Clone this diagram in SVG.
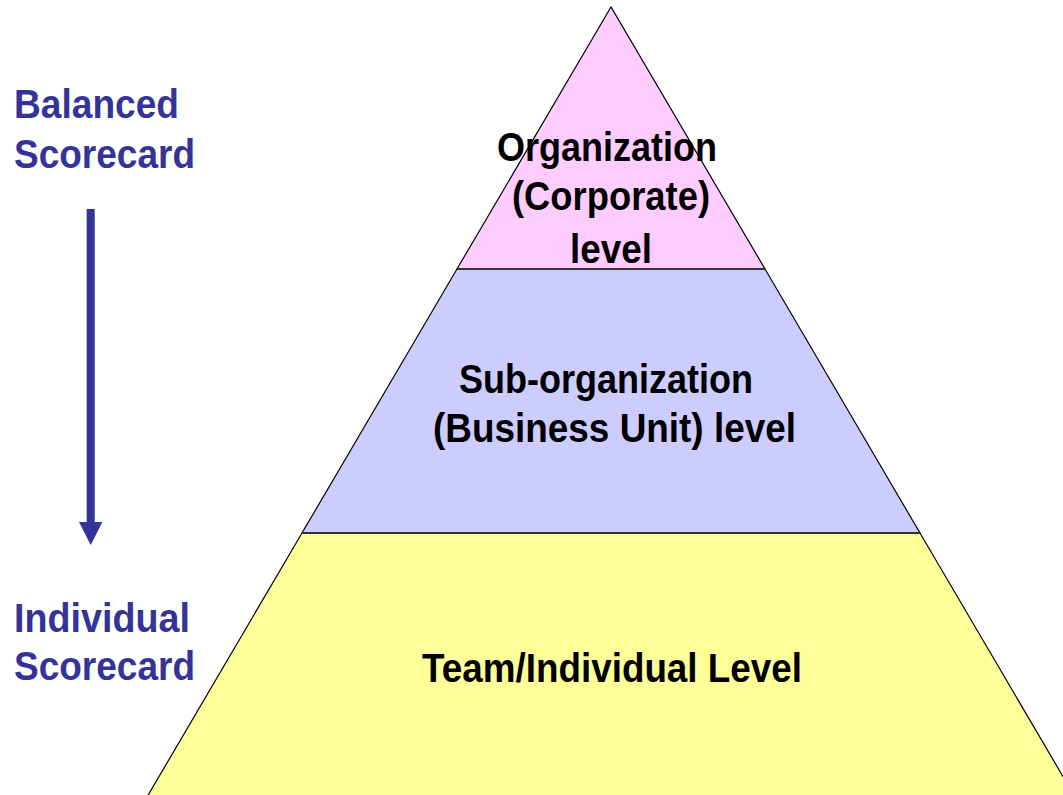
<svg xmlns="http://www.w3.org/2000/svg" width="1063" height="795" viewBox="0 0 1063 795">
<style>
.lvl{font-family:"Liberation Sans",Arial,sans-serif;font-weight:bold;font-size:40px;fill:#000}
.side{font-family:"Liberation Sans",Arial,sans-serif;font-weight:bold;font-size:40px;fill:#333399}
.edge{stroke:#000;stroke-width:1.2;stroke-linejoin:miter}
.sep{stroke:#333;stroke-width:2}
</style>
<rect width="1063" height="795" fill="#fff"/>
<g id="level-corporate">
<polygon points="611,7 457,269 765,269" fill="#FFCCFF" class="edge"/>
<text class="lvl" x="497" y="161" textLength="220" lengthAdjust="spacingAndGlyphs">Organization</text>
<text class="lvl" x="512" y="210" textLength="198" lengthAdjust="spacingAndGlyphs">(Corporate)</text>
<text class="lvl" x="570" y="263" textLength="82" lengthAdjust="spacingAndGlyphs">level</text>
</g>
<g id="level-business-unit">
<polygon points="457,269 765,269 920,533 302,533" fill="#CCCCFF" class="edge"/>
<text class="lvl" x="459" y="393" textLength="294" lengthAdjust="spacingAndGlyphs">Sub-organization</text>
<text class="lvl" x="433" y="442" textLength="363" lengthAdjust="spacingAndGlyphs">(Business Unit) level</text>
</g>
<g id="level-team">
<polygon points="302,533 920,533 1075,797 147,797" fill="#FFFF99" class="edge"/>
<text class="lvl" x="422" y="682" textLength="380" lengthAdjust="spacingAndGlyphs">Team/Individual Level</text>
</g>
<g id="separators">
<line x1="457" y1="269" x2="765" y2="269" class="sep"/>
<line x1="302" y1="533" x2="920" y2="533" class="sep"/>
</g>
<g id="label-balanced">
<text class="side" x="14" y="118" textLength="165" lengthAdjust="spacingAndGlyphs">Balanced</text>
<text class="side" x="14" y="168" textLength="181" lengthAdjust="spacingAndGlyphs">Scorecard</text>
</g>
<g id="label-individual">
<text class="side" x="14" y="632" textLength="176" lengthAdjust="spacingAndGlyphs">Individual</text>
<text class="side" x="14" y="680" textLength="181" lengthAdjust="spacingAndGlyphs">Scorecard</text>
</g>
<g id="connectors">
<rect x="86.7" y="209" width="8" height="314" fill="#333399"/>
<polygon points="79,522 102.4,522 90.7,545" fill="#333399"/>
</g>
</svg>
